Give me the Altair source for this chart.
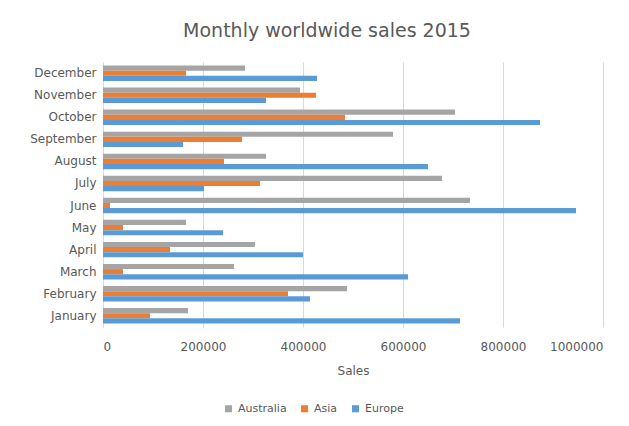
import altair as alt
import pandas as pd

months = ["January", "February", "March", "April", "May", "June",
          "July", "August", "September", "October", "November", "December"]
australia = [170000, 488000, 262000, 304000, 166000, 734000,
             678000, 326000, 580000, 704000, 394000, 284000]
asia = [94000, 370000, 40000, 134000, 40000, 14000,
        314000, 242000, 278000, 484000, 426000, 166000]
europe = [714000, 414000, 610000, 400000, 240000, 946000,
          202000, 650000, 160000, 874000, 326000, 428000]
series = ["Australia", "Asia", "Europe"]
colors = ["#A5A5A5", "#ED7D31", "#5B9BD5"]
x_ticks = [0, 200000, 400000, 600000, 800000, 1000000]

rows = []
for i, m in enumerate(months):
    for s, vals in zip(series, [australia, asia, europe]):
        rows.append({"Month": m, "Region": s, "Sales": vals[i]})
df = pd.DataFrame(rows)

font = "DejaVu Sans"
chart = alt.Chart(df).mark_bar().encode(
    y=alt.Y("Month:N", sort=months[::-1],
            scale=alt.Scale(paddingInner=0.3, paddingOuter=0.16),
            axis=alt.Axis(title=None, labelFontSize=12, labelColor="#595959",
                          labelFont=font, ticks=False, domain=True,
                          domainColor="#D9D9D9", labelPadding=7)),
    yOffset=alt.YOffset("Region:N", sort=series),
    x=alt.X("Sales:Q", scale=alt.Scale(domain=[0, 1000000], nice=False),
            axis=alt.Axis(title="Sales", values=x_ticks, format="d",
                          labelFontSize=12, labelColor="#595959", labelFont=font,
                          titleFont=font, titleFontSize=12, titleColor="#595959",
                          titleFontWeight="normal", titlePadding=13,
                          ticks=False, domain=False, grid=True,
                          gridColor="#D9D9D9", labelPadding=14)),
    color=alt.Color("Region:N", sort=series,
                    scale=alt.Scale(domain=series, range=colors),
                    legend=alt.Legend(title=None, orient="none", direction="horizontal",
                                      legendX=120, legendY=341, symbolType="square",
                                      symbolSize=50, labelFontSize=11, labelFont=font,
                                      labelColor="#595959", columnPadding=12)),
).properties(
    width=500, height=265,
    title=alt.TitleParams("Monthly worldwide sales 2015", fontSize=19, font=font,
                          color="#595959", fontWeight="normal", anchor="middle",
                          offset=21, dx=-26),
    autosize=alt.AutoSizeParams(type="none"),
    padding={"left": 95, "top": 54, "right": 18, "bottom": 90},
).configure_view(stroke=None)

chart.save("out.html", embed_options={"renderer": "svg", "actions": False})
